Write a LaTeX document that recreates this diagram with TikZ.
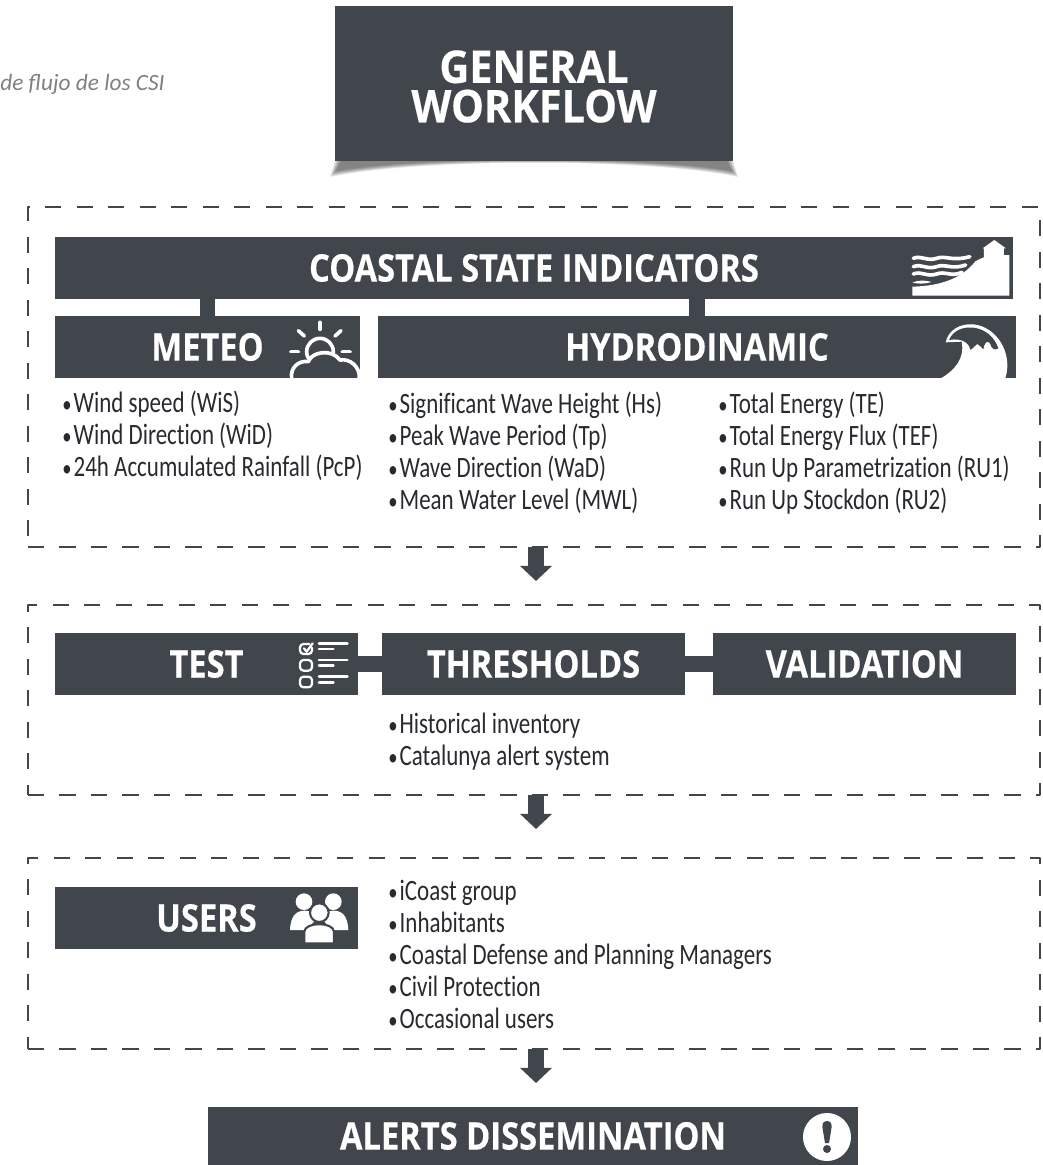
\documentclass[tikz,border=0pt]{standalone}
\usepackage{fontspec}
\setmainfont{Carlito}
\newfontfamily\hdfont[FakeStretch=0.86,BoldFeatures={FakeBold=0.4}]{Open Sans}
\newfontfamily\genfont[FakeStretch=0.92,BoldFeatures={FakeBold=0.4}]{Open Sans}
\newfontfamily\lstfont[FakeStretch=0.778,Ligatures=NoCommon]{Carlito}
\usetikzlibrary{arrows.meta}
\definecolor{boxc}{HTML}{40464C}
\def\px{0.025cm}
\def\bul{{\fontsize{17}{17}\selectfont•}\kern1.5pt}
\begin{document}
\begin{tikzpicture}[x=\px,y=-\px,line join=round,
	hdbox/.style={fill=boxc,text=white,inner sep=0pt,font=\hdfont\bfseries\fontsize{27}{27}\selectfont},
	frbox/.style={draw=boxc,line width=2pt,dash pattern=on 11.4pt off 11pt,inner sep=0pt},
	lst/.style={anchor=north west,inner sep=0pt,align=left,text=boxc!60!black,font=\lstfont\fontsize{21}{22.76}\selectfont},
	stub/.style={draw=boxc,line width=11pt},
	bigarr/.style={draw=boxc,line width=11.4pt,-{Triangle[width=22pt,length=10.7pt]}},
	icn/.style={draw=white,line width=2.6pt,line cap=round}]
	\useasboundingbox (0,0) rectangle (1042,1165);
	\node[anchor=west,inner sep=0pt,text=gray,font=\itshape\fontsize{16.6}{18}\selectfont] (capt) at (0,84) {de flujo de los CSI};
	\foreach \d in {0,...,6}
	\fill[black,opacity=.09] (335+\d,161) -- (330+\d,177-\d) .. controls (420,158-\d/3) and (650,158-\d/3) .. (738-\d,177-\d) -- (733-\d,161) -- cycle;
	\node[hdbox,minimum width=398*\px,minimum height=155*\px] (gen) at (534,83.5) {};
	\node[inner sep=0pt,align=center,text=white,font=\genfont\bfseries\fontsize{32}{28}\selectfont] (gent) at (534,86.5) {GENERAL\\WORKFLOW};
	
	\node[frbox,minimum width=1012*\px,minimum height=340*\px] (fra) at (534,377) {};
	\node[frbox,minimum width=1012*\px,minimum height=190*\px] (frb) at (534,700) {};
	\node[frbox,minimum width=1012*\px,minimum height=191*\px] (frc) at (534,953.5) {};
	
	\node[hdbox,minimum width=958*\px,minimum height=62*\px] (csi) at (534,268) {COASTAL STATE INDICATORS};
	\node[hdbox,minimum width=305*\px,minimum height=62*\px] (met) at (207.5,347) {METEO};
	\node[hdbox,minimum width=638*\px,minimum height=62*\px] (hyd) at (697,347) {HYDRODINAMIC};
	\draw[stub] (met.north) -- (met.north |- csi.south);
	\draw[stub] (hyd.north) -- (hyd.north |- csi.south);
	\node[lst] (metl) at (62,391) {\bul Wind speed (WiS)\\\bul Wind Direction (WiD)\\\bul 24h Accumulated Rainfall (PcP)};
	\node[lst] (hydl) at (388,392) {\bul Significant Wave Height (Hs)\\\bul Peak Wave Period (Tp)\\\bul Wave Direction (WaD)\\\bul Mean Water Level (MWL)};
	\node[lst] (hydr) at (718,392) {\bul Total Energy (TE)\\\bul Total Energy Flux (TEF)\\\bul Run Up Parametrization (RU1)\\\bul Run Up Stockdon (RU2)};
	
	\node[hdbox,minimum width=303*\px,minimum height=62*\px] (tst) at (206.5,664) {TEST};
	\node[hdbox,minimum width=303*\px,minimum height=62*\px] (thr) at (533.5,664) {THRESHOLDS};
	\node[hdbox,minimum width=303*\px,minimum height=62*\px] (val) at (864.5,664) {VALIDATION};
	\draw[stub] (tst.east) -- (thr.west);
	\draw[stub] (thr.east) -- (val.west);
	\node[lst] (thrl) at (388,713) {\bul Historical inventory\\\bul Catalunya alert system};
	
	\node[hdbox,minimum width=303*\px,minimum height=62*\px] (usr) at (206.5,918) {USERS};
	\node[lst] (usrl) at (388,880) {\bul iCoast group\\\bul Inhabitants\\\bul Coastal Defense and Planning Managers\\\bul Civil Protection\\\bul Occasional users};
	
	\node[hdbox,minimum width=650*\px,minimum height=58*\px] (alr) at (533,1136) {ALERTS DISSEMINATION};
	
	\coordinate (a1) at (536,547);
	\coordinate (a2) at (536,581);
	\coordinate (b1) at (536,795);
	\coordinate (b2) at (536,829);
	\coordinate (c1) at (536,1049);
	\coordinate (c2) at (536,1083);
	\draw[bigarr] (a1) -- (a2);
	\draw[bigarr] (b1) -- (b2);
	\draw[bigarr] (c1) -- (c2);
	
	\begin{scope}[shift={(880,230)},scale=.3333]
	\fill[white] (97,197) -- (97,170) .. controls (190,168) and (250,140) .. (285,95) .. controls (295,88) and (305,85) .. (312,82) -- (312,55) -- (308,55) -- (343,30) -- (378,55) -- (372,55) -- (372,75) -- (388,75) -- (388,197) -- cycle;
	\foreach \w in {85,110,132}
	\draw[white,line width=2.6pt,line cap=round] (100,\w) .. controls (125,\w-10) and (140,\w+10) .. (170,\w) .. controls (195,\w-10) and (215,\w+10) .. (270-\w/2+42,\w-5);
	\fill[white] (97,158) .. controls (115,150) and (135,150) .. (155,156) .. controls (135,162) and (115,162) .. (97,158) -- cycle;
	\end{scope}
	
	\begin{scope}[shift={(880,230)},scale=.3333]
	\fill[white] (183,445) .. controls (225,420) and (255,385) .. (245,335) -- (197,337) .. controls (205,300) and (240,280) .. (280,283) .. controls (350,290) and (400,370) .. (376,445) -- cycle;
	\fill[boxc] (207,330) .. controls (220,300) and (250,290) .. (280,293) .. controls (320,298) and (345,325) .. (355,355) .. controls (345,362) and (335,358) .. (330,340) .. controls (322,328) and (312,340) .. (310,358) .. controls (302,350) and (298,345) .. (292,342) .. controls (285,345) and (280,355) .. (272,360) .. controls (268,345) and (255,322) .. (207,330) -- cycle;
	\end{scope}
	
	\begin{scope}[shift={(270,310)},scale=.3333]
	\draw[icn] (150,37) -- (150,58);
	\draw[icn] (85,62) -- (103,78);
	\draw[icn] (213,62) -- (195,78);
	\draw[icn] (63,125) -- (85,125);
	\draw[icn] (217,125) -- (240,125);
	\draw[icn] (150,125) circle (40);
	\draw[icn,line cap=butt,fill=boxc] (65,204) .. controls (60,175) and (85,150) .. (115,155) .. controls (125,125) and (185,115) .. (210,150) .. controls (240,145) and (270,170) .. (268,204);
	\end{scope}
	
	\begin{scope}[shift={(270,625)},scale=.3333]
	\draw[icn,line width=1.6pt,rounded corners=2.5pt] (118,57) -- (90,57) -- (90,87) -- (126,87) -- (126,68);
	\draw[icn,line width=1.6pt] (102,70) -- (110,80) -- (128,55);
	\foreach \r in {105,155}
	\draw[icn,line width=1.6pt,rounded corners=2.5pt] (90,\r) rectangle (126,\r+32);
	\foreach \r in {55,105,155}{
	\draw[icn,line width=2pt] (147,\r) -- (232,\r);
	\draw[icn,line width=2pt] (147,\r+17) -- (190,\r+17);
	}
	\end{scope}
	
	\begin{scope}[shift={(270,880)},scale=.3333]
	\fill[white] (60,150) .. controls (62,105) and (80,92) .. (105,92) .. controls (125,92) and (135,100) .. (140,115) -- (110,150) -- cycle;
	\fill[white] (235,150) .. controls (233,105) and (215,92) .. (190,92) .. controls (170,92) and (160,100) .. (155,115) -- (185,150) -- cycle;
	\fill[white] (102,65) circle (25);
	\fill[white] (190,65) circle (25);
	\draw[boxc,line width=1.5pt,fill=white] (103,190) -- (103,155) .. controls (105,125) and (190,125) .. (192,155) -- (192,190) -- cycle;
	\draw[boxc,line width=1.5pt,fill=white] (148,98) circle (28);
	\end{scope}
	
	\fill[white] (827,1137) circle (24);
	\fill[boxc] (827,1121) .. controls (821.5,1121) and (822,1126) .. (823,1131) -- (825,1143) -- (829,1143) -- (831,1131) .. controls (832,1126) and (832.5,1121) .. (827,1121) -- cycle;
	\fill[boxc] (827,1149) circle (4);
	\end{tikzpicture}
\end{document}
